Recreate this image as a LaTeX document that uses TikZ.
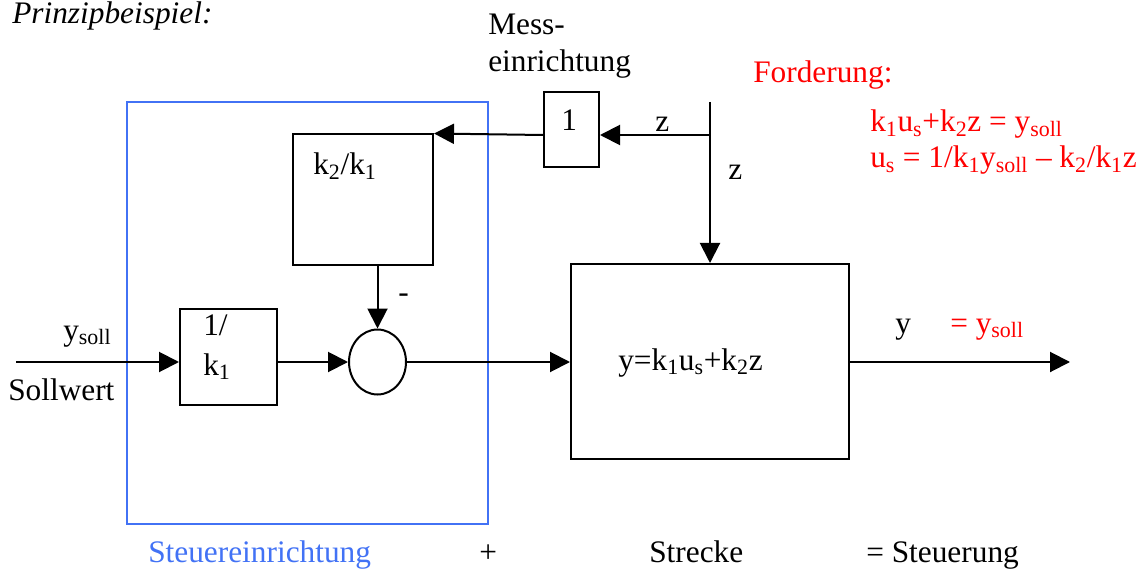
\documentclass[tikz,border=0pt]{standalone}
\usepackage{fontspec}
\setmainfont{Liberation Serif}
\usetikzlibrary{arrows.meta,shapes.geometric}

\definecolor{steuerblau}{RGB}{66,114,245}
\newcommand{\tief}[1]{\textsubscript{#1}}

\tikzset{
  block/.style={draw, line width=1.5pt, inner sep=0pt},
  linie/.style={line width=1.5pt},
  pfeil/.style={line width=1.5pt, -{Triangle[length=15pt,width=15pt]}},
  txt/.style={anchor=base west, inner sep=0pt},
  rot/.style={txt, text=red},
}

\begin{document}
\begin{tikzpicture}[x=0.75pt, y=-0.75pt, font=\fontsize{23.5}{28}\selectfont]
	\useasboundingbox (0,0) rectangle (1141,570);

	% Steuereinrichtung
	\draw[steuerblau, line width=1.5pt] (127,102) rectangle (488,524);

	% Bloecke
	\node[block, minimum width=41.25pt, minimum height=56.25pt] (mess) at (571.5,129.5) {};
	\node[block, minimum width=105pt, minimum height=97.5pt] (kfb) at (363,199.5) {};
	\node[block, minimum width=72.75pt, minimum height=72pt] (vor) at (228.5,357) {};
	\node[draw, ellipse, line width=1.5pt, inner sep=0pt, minimum width=42.75pt, minimum height=48.75pt] (summe) at (377.5,362) {};
	\node[block, minimum width=208.5pt, minimum height=146.25pt] (strecke) at (710,361.5) {};

	\coordinate (ein) at (16,362);
	\coordinate (aus) at (1070,362);
	\coordinate (ztop) at (710,102);
	\coordinate (zsplit) at (710,135);

	% Verbindungen
	\draw[pfeil] (ein) -- (ein -| vor.west);
	\draw[pfeil] (vor.east |- ein) -- (summe.west);
	\draw[pfeil] (summe.east) -- (summe.east -| strecke.west);
	\draw[pfeil] (strecke.east |- ein) -- (aus);
	\draw[pfeil] (ztop) -- (strecke.north);
	\draw[pfeil] (zsplit) -- (zsplit -| mess.east);
	\draw[pfeil] (zsplit -| mess.west) -- (kfb.north east);
	\draw[pfeil] (summe.north |- kfb.south) -- (summe.north);

	% Beschriftungen
	\node[txt, font=\fontsize{23.5}{28}\selectfont\itshape] (titel) at (12,24) {Prinzipbeispiel:};
	\node[txt] (mess1) at (488,35) {Mess-};
	\node[txt] (mess2) at (488,72) {einrichtung};
	\node[txt] (einstxt) at (561,131) {1};
	\node[txt] (z1) at (655,132) {z};
	\node[txt] (z2) at (728,180) {z};
	\node[txt] (kfbtxt) at (313,175) {k\tief{2}/k\tief{1}};
	\node[txt] (minus) at (398,302) {-};
	\node[txt] (ysoll) at (63,340) {y\tief{soll}};
	\node[txt] (sollwert) at (8,400) {Sollwert};
	\node[txt] (vor1) at (203,335) {1/};
	\node[txt] (vor2) at (203,375) {k\tief{1}};
	\node[txt] (strtxt) at (618,370) {y=k\tief{1}u\tief{s}+k\tief{2}z};
	\node[txt] (yaus) at (895,333) {y};
	\node[rot] (ygleich) at (950,333) {= y\tief{soll}};
	\node[rot] (ford) at (753,83) {Forderung:};
	\node[rot] (gl1) at (870,132) {k\tief{1}u\tief{s}+k\tief{2}z = y\tief{soll}};
	\node[rot] (gl2) at (870,168) {u\tief{s} = 1/k\tief{1}y\tief{soll} -- k\tief{2}/k\tief{1}z};

	\node[txt, text=steuerblau] (se) at (148,562) {Steuereinrichtung};
	\node[txt] (plus) at (479,562) {+};
	\node[txt] (str) at (649,562) {Strecke};
	\node[txt] (stg) at (866,562) {= Steuerung};
\end{tikzpicture}
\end{document}
